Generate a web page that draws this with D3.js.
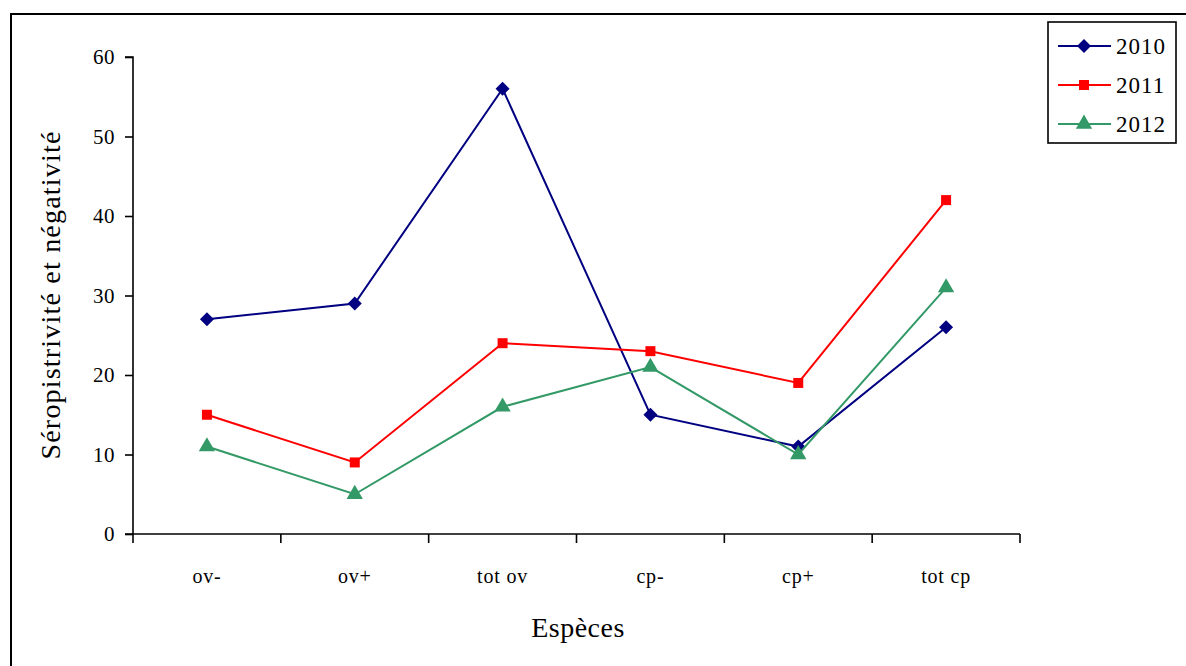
<!DOCTYPE html>
<html>
<head>
<meta charset="utf-8">
<script src="https://cdn.jsdelivr.net/npm/d3@7"></script>
<style>
  html, body { margin: 0; padding: 0; background: #fff; }
  svg { display: block; }
  text { font-family: "Liberation Serif", "DejaVu Serif", serif; fill: #000; }
</style>
</head>
<body>
<svg id="chart" width="1186" height="666"></svg>
<script>
// Categories (species groups) and yearly series
const categories = ["ov-", "ov+", "tot ov", "cp-", "cp+", "tot cp"];
const values2010 = [27, 29, 56, 15, 11, 26];
const values2011 = [15, 9, 24, 23, 19, 42];
const values2012 = [11, 5, 16, 21, 10, 31];
const yTicks = [0, 10, 20, 30, 40, 50, 60];

const series = [
  { name: "2010", values: values2010, color: "#000080", symbol: d3.symbolSquare, size: 98, rotate: 45 },
  { name: "2011", values: values2011, color: "#ff0000", symbol: d3.symbolSquare, size: 100, rotate: 0 },
  { name: "2012", values: values2012, color: "#339966", symbol: d3.symbolTriangle, size: 115, rotate: 0 }
];

const svg = d3.select("#chart");
const plot = { left: 133, right: 1020, top: 57, bottom: 534 };

// Outer frame (continues past the right and bottom edges)
svg.append("rect")
  .attr("x", 11).attr("y", 14)
  .attr("width", 1300).attr("height", 800)
  .attr("fill", "none").attr("stroke", "#000").attr("stroke-width", 2);

const x = d3.scaleBand().domain(categories).range([plot.left, plot.right]).padding(0);
const y = d3.scaleLinear().domain([0, 60]).range([plot.bottom, plot.top]);

// Y axis
const yAxis = svg.append("g")
  .attr("transform", `translate(${plot.left},0)`)
  .call(d3.axisLeft(y).tickValues(yTicks).tickSize(8).tickPadding(10).tickFormat(d3.format("d")));
yAxis.selectAll("text").style("font-size", "21px").attr("letter-spacing", "0.5");
yAxis.selectAll("line, path").attr("stroke", "#000").attr("stroke-width", 1.6);
yAxis.select(".domain").attr("d", `M-8,${plot.top}H0V${plot.bottom}`);

// X axis: ticks between categories, pointing down
const xAxis = svg.append("g")
  .attr("transform", `translate(0,${plot.bottom})`);
xAxis.append("line")
  .attr("x1", plot.left - 8).attr("x2", plot.right)
  .attr("stroke", "#000").attr("stroke-width", 1.6);
const boundaries = categories.map(c => x(c)).concat([plot.right]);
xAxis.selectAll("line.tick")
  .data(boundaries).join("line")
  .attr("class", "tick")
  .attr("x1", d => d).attr("x2", d => d)
  .attr("y1", 0).attr("y2", 9)
  .attr("stroke", "#000").attr("stroke-width", 1.6);
xAxis.selectAll("text.cat")
  .data(categories).join("text")
  .attr("class", "cat")
  .attr("x", d => x(d) + x.bandwidth() / 2)
  .attr("y", 49)
  .attr("text-anchor", "middle")
  .attr("letter-spacing", "0.8")
  .style("font-size", "20px")
  .text(d => d);

// Axis titles
svg.append("text")
  .attr("x", 578).attr("y", 637)
  .attr("text-anchor", "middle")
  .attr("letter-spacing", "0.5")
  .style("font-size", "28px")
  .text("Espèces");
svg.append("text")
  .attr("transform", `translate(60,295) rotate(-90)`)
  .attr("text-anchor", "middle")
  .attr("letter-spacing", "1.2")
  .style("font-size", "28px")
  .text("Séropistrivité et négativité");

// Lines and markers
const cx = i => x(categories[i]) + x.bandwidth() / 2;
const line = d3.line().x((d, i) => cx(i)).y(d => y(d));

series.forEach(s => {
  svg.append("path")
    .datum(s.values)
    .attr("d", line)
    .attr("fill", "none")
    .attr("stroke", s.color)
    .attr("stroke-width", 2);
  svg.selectAll(null)
    .data(s.values).join("path")
    .attr("transform", (d, i) => `translate(${cx(i)},${y(d)}) rotate(${s.rotate})`)
    .attr("d", d3.symbol().type(s.symbol).size(s.size))
    .attr("fill", s.color);
});

// Legend
const legend = svg.append("g");
legend.append("rect")
  .attr("x", 1048).attr("y", 22)
  .attr("width", 128).attr("height", 121)
  .attr("fill", "#fff").attr("stroke", "#000").attr("stroke-width", 1.6);
series.forEach((s, i) => {
  const ly = 46 + i * 39;
  legend.append("line")
    .attr("x1", 1058).attr("x2", 1111)
    .attr("y1", ly).attr("y2", ly)
    .attr("stroke", s.color).attr("stroke-width", 2);
  legend.append("path")
    .attr("transform", `translate(1084,${ly}) rotate(${s.rotate})`)
    .attr("d", d3.symbol().type(s.symbol).size(s.size))
    .attr("fill", s.color);
  legend.append("text")
    .attr("x", 1116).attr("y", ly + 8)
    .attr("letter-spacing", "1")
    .style("font-size", "23px")
    .text(s.name);
});
</script>
</body>
</html>
